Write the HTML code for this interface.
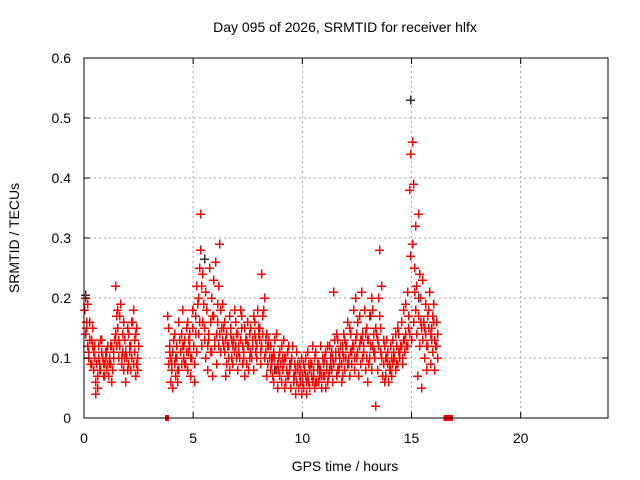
<!DOCTYPE html>
<html><head><meta charset="utf-8"><style>
html,body{margin:0;padding:0;background:#fff;}
svg{display:block;font-family:"Liberation Sans",sans-serif;}
</style></head><body>
<svg id="chart" width="640" height="480" viewBox="0 0 640 480" xmlns="http://www.w3.org/2000/svg">
<rect width="640" height="480" fill="#fff"/>
<text x="345" y="32" font-size="14" text-anchor="middle" fill="#000">Day 095 of 2026, SRMTID for receiver hlfx</text>
<text x="0" y="0" font-size="14" text-anchor="middle" transform="translate(19,238) rotate(-90)" fill="#000">SRMTID / TECUs</text>
<text x="345" y="471" font-size="14" text-anchor="middle" fill="#000">GPS time / hours</text>
<g id="grid"></g>
<g id="marks" shape-rendering="crispEdges"></g>
<g id="axes"></g>
</svg>
<script>
const xTicks=[0,5,10,15,20];
const yTicks=[0,0.1,0.2,0.3,0.4,0.5,0.6];
const yTickLabels=["0","0.1","0.2","0.3","0.4","0.5","0.6"];
const hours=[0.0,0.1,0.2,0.3,0.4,0.5,0.6,0.7,0.8,0.9,1.0,1.1,1.2,1.3,1.4,1.5,1.6,1.7,1.8,1.9,2.0,2.1,2.2,2.3,2.4,
3.8,3.9,4.0,4.1,4.2,4.3,4.4,4.5,4.6,4.7,4.8,4.9,5.0,5.1,5.2,5.3,5.4,5.5,5.6,5.7,5.8,5.9,6.0,6.1,6.2,6.3,6.4,6.5,6.6,6.7,6.8,6.9,7.0,7.1,7.2,7.3,7.4,7.5,7.6,7.7,7.8,7.9,8.0,8.1,8.2,8.3,8.4,8.5,8.6,8.7,8.8,8.9,9.0,9.1,9.2,9.3,9.4,9.5,9.6,9.7,9.8,9.9,10.0,10.1,10.2,10.3,10.4,10.5,10.6,10.7,10.8,10.9,11.0,11.1,11.2,11.3,11.4,11.5,11.6,11.7,11.8,11.9,12.0,12.1,12.2,12.3,12.4,12.5,12.6,12.7,12.8,12.9,13.0,13.1,13.2,13.3,13.4,13.5,13.6,13.7,13.8,13.9,14.0,14.1,14.2,14.3,14.4,14.5,14.6,14.7,14.8,14.9,15.0,15.1,15.2,15.3,15.4,15.5,15.6,15.7,15.8,15.9,16.0,16.1];
const srmtidA=[.18,.15,.10,.13,.11,.06,.05,.09,.13,.07,.11,.07,.09,.08,.14,.18,.12,.09,.08,.06,.09,.12,.16,.11,.15,
.17,.12,.08,.09,.10,.16,.11,.18,.13,.08,.14,.10,.12,.17,.20,.34,.24,.15,.18,.13,.20,.23,.26,.16,.29,.19,.11,.14,.12,.15,.09,.12,.14,.10,.17,.11,.13,.08,.15,.12,.16,.10,.13,.24,.18,.11,.09,.12,.07,.10,.14,.08,.12,.09,.06,.11,.08,.10,.07,.11,.05,.08,.06,.10,.07,.05,.09,.07,.11,.06,.08,.10,.07,.09,.12,.08,.21,.10,.13,.09,.11,.08,.12,.10,.14,.18,.13,.11,.17,.21,.12,.15,.09,.12,.18,.10,.13,.28,.22,.09,.07,.11,.08,.13,.10,.12,.14,.16,.13,.19,.21,.38,.46,.25,.22,.17,.20,.23,.14,.17,.21,.15,.19,.12];
const srmtidB=[.20,.12,.16,.09,.08,.04,.10,.08,.10,.09,.08,.10,.12,.10,.22,.15,.17,.11,.13,.10,.14,.08,.18,.07,.10,
.15,.06,.05,.14,.12,.08,.14,.10,.09,.16,.12,.15,.09,.22,.14,.28,.16,.21,.12,.25,.11,.17,.14,.22,.18,.13,.16,.09,.17,.10,.13,.16,.08,.18,.12,.15,.09,.12,.11,.17,.13,.18,.15,.12,.20,.14,.12,.08,.10,.13,.09,.11,.06,.13,.10,.07,.05,.12,.09,.06,.09,.04,.09,.07,.11,.08,.06,.10,.06,.09,.12,.07,.05,.12,.08,.11,.09,.14,.08,.12,.07,.13,.09,.15,.11,.12,.20,.16,.09,.14,.18,.10,.13,.20,.11,.15,.08,.17,.10,.12,.10,.06,.12,.09,.14,.09,.11,.12,.18,.14,.17,.44,.29,.21,.14,.24,.15,.16,.19,.12,.14,.11,.13,.16];
const srmtidC=[.14,.19,.13,.15,.12,.09,.12,.13,.07,.11,.12,.09,.06,.11,.12,.10,.19,.14,.10,.15,.12,.10,.09,.14,.08,
.09,.10,.11,.07,.06,.13,.09,.12,.15,.11,.07,.18,.06,.11,.25,.12,.19,.10,.08,.16,.07,.12,.09,.12,.11,.15,.07,.12,.08,.13,.18,.10,.11,.13,.09,.07,.16,.14,.10,.08,.11,.14,.09,.17,.10,.07,.13,.10,.06,.08,.05,.07,.10,.05,.08,.12,.09,.06,.04,.08,.07,.10,.05,.04,.06,.09,.12,.05,.08,.07,.05,.09,.11,.06,.10,.06,.13,.07,.11,.06,.14,.10,.16,.07,.09,.08,.10,.07,.13,.10,.08,.06,.17,.08,.14,.02,.20,.11,.07,.06,.13,.09,.07,.10,.08,.15,.10,.09,.11,.12,.15,.27,.39,.18,.07,.12,.05,.10,.08,.15,.09,.17,.08,.10];
const srmtidD=[.16,.11,.09,.12,.10,.07,.08,.11,.09,.10,.09,.12,.08,.13,.17,.13,.10,.16,.11,.08,.11,.16,.13,.09,.12,
.11,.09,.13,.10,.08,.11,.12,.09,.11,.13,.10,.12,.14,.19,.16,.22,.13,.18,.14,.11,.17,.13,.19,.14,.15,.12,.13,.10,.14,.12,.11,.14,.12,.15,.10,.13,.12,.10,.13,.14,.12,.15,.11,.14,.13,.12,.10,.09,.11,.08,.10,.09,.08,.10,.07,.09,.10,.07,.08,.09,.06,.07,.08,.06,.09,.07,.08,.06,.09,.08,.07,.10,.08,.07,.09,.10,.11,.08,.10,.09,.10,.12,.09,.11,.12,.10,.14,.12,.13,.11,.14,.13,.10,.12,.11,.14,.12,.15,.13,.10,.09,.08,.10,.11,.09,.11,.12,.10,.13,.12,.14,.13,.16,.32,.34,.16,.13,.15,.12,.18,.13,.16,.12,.14,.11,.14];
const blackHours=[0.05,5.5,8.7,11.8,13.1,14.95,15.0,15.3];
const blackValues=[.205,.265,.08,.12,.17,.53,.29,.2];
const zeroHours=[3.8,16.55,16.7,16.8];

const X0=84,X1=608,Y0=418,Y1=58,XMAX=24,YMAX=0.6;
const sx=h=>X0+(h/XMAX)*(X1-X0);
const sy=v=>Y0-(v/YMAX)*(Y0-Y1);
const NS="http://www.w3.org/2000/svg";
function mk(tag,attrs,parent){const e=document.createElementNS(NS,tag);for(const k in attrs)e.setAttribute(k,attrs[k]);parent.appendChild(e);return e;}
const grid=document.getElementById('grid'),marks=document.getElementById('marks'),axes=document.getElementById('axes');
xTicks.forEach((t,i)=>{
  if(t>0){const g=mk('line',{x1:sx(t),x2:sx(t),y1:Y0,y2:Y1,stroke:'#a0a0a0','stroke-dasharray':'2,3'},grid);
  
  }
  const a=mk('line',{x1:sx(t),x2:sx(t),y1:Y0,y2:Y0-6,stroke:'#000'},axes);
  
  
  const b=mk('line',{x1:sx(t),x2:sx(t),y1:Y1,y2:Y1+6,stroke:'#000'},axes);
  
  
  const l=mk('text',{x:sx(t),y:443,'font-size':14,'text-anchor':'middle'},axes);l.textContent=String(t);
  
  
});
yTicks.forEach((t,i)=>{
  if(t>0&&t<YMAX){const g=mk('line',{x1:X0,x2:X1,y1:sy(t),y2:sy(t),stroke:'#a0a0a0','stroke-dasharray':'2,3'},grid);
  
  }
  const a=mk('line',{x1:X0,x2:X0+6,y1:sy(t),y2:sy(t),stroke:'#000'},axes);
  
  
  const b=mk('line',{x1:X1,x2:X1-6,y1:sy(t),y2:sy(t),stroke:'#000'},axes);
  
  
  const l=mk('text',{x:71,y:sy(t)+5,'font-size':14,'text-anchor':'end'},axes);l.textContent=yTickLabels[i];
  
  
});
const frame=mk('rect',{x:X0,y:Y1,width:X1-X0,height:Y0-Y1,fill:'none',stroke:'#000'},axes);


function plus(h,v,color,name){
  const x=Math.round(sx(h)),y=Math.round(sy(v));
  const p=mk('path',{d:`M${x-4},${y}H${x+5}M${x+0.5},${y-4.5}V${y+4.5}`,stroke:color,'stroke-width':1.5,fill:'none'},marks);
  
  
}
blackHours.forEach((h,i)=>plus(h,blackValues[i],'#333','black-point'));
hours.forEach((h,i)=>{
  plus(h,srmtidA[i],'#ff0000','srmtid-point');
  plus(h+0.025,srmtidB[i],'#ff0000','srmtid-point');
  plus(h+0.05,srmtidC[i],'#ff0000','srmtid-point');
  plus(h+0.075,srmtidD[i],'#ff0000','srmtid-point');
});
zeroHours.forEach(h=>{
  const r=mk('rect',{x:sx(h)-2,y:Y0-3,width:4,height:6,fill:'#ff0000'},marks);
  
  
});
</script>
</body></html>
